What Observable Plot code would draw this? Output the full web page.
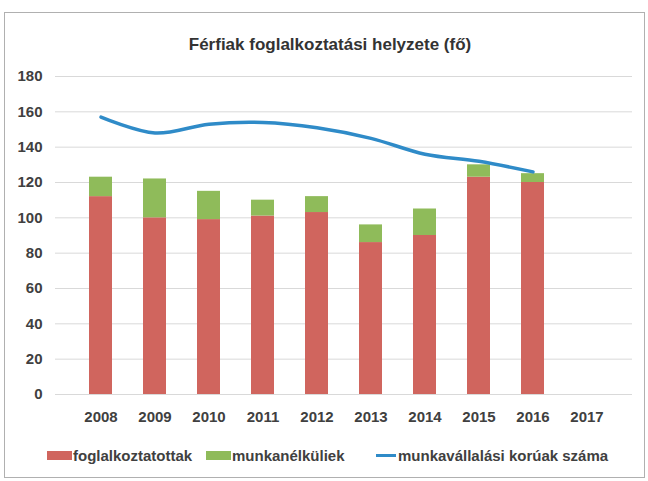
<!DOCTYPE html>
<html><head><meta charset="utf-8">
<script src="https://cdn.jsdelivr.net/npm/d3@7"></script>
<script src="https://cdn.jsdelivr.net/npm/@observablehq/plot@0.6"></script>
<style>
body{margin:0;background:#fff;}
#frame{position:relative;width:648px;height:481px;overflow:hidden;font-family:"Liberation Sans",Arial,sans-serif;color:#404040;}
#border{position:absolute;left:4px;top:12px;width:641px;height:466px;border:1px solid #b0b0b0;box-sizing:border-box;}
#title{position:absolute;left:0;top:35px;width:660px;text-align:center;font-weight:bold;font-size:17px;color:#333;}
#chart{position:absolute;left:0;top:60px;}
.leg{position:absolute;top:447px;font-size:15px;font-weight:bold;white-space:nowrap;display:flex;align-items:center;}
.sw{display:inline-block;width:25px;height:9px;margin-right:1px;}
.ln{display:inline-block;width:20px;height:3px;margin-right:2px;}
</style></head>
<body><div id="frame">
<div id="border"></div>
<div id="title">Férfiak foglalkoztatási helyzete (fő)</div>
<div id="chart"></div>
<div class="leg" style="left:47px"><span class="sw" style="background:#d0655e"></span>foglalkoztatottak</div>
<div class="leg" style="left:206px"><span class="sw" style="background:#8fbb5a"></span>munkanélküliek</div>
<div class="leg" style="left:376px"><span class="ln" style="background:#2f8bc8"></span>munkavállalási korúak száma</div>
</div>
<script>
const years = ["2008","2009","2010","2011","2012","2013","2014","2015","2016","2017"];
const employed = [112,100,99,101,103,86,90,123,120];
const unemployed = [11,22,16,9,9,10,15,7,5];
const workingAge = [157,148,153,154,151,145,136,132,126];
const seriesNames = ["foglalkoztatottak","munkanélküliek"];
const yTicks = [0,20,40,60,80,100,120,140,160,180];

const bars = [];
employed.forEach((v,i)=>{
  bars.push({year:years[i], series:seriesNames[0], value:v});
  bars.push({year:years[i], series:seriesNames[1], value:unemployed[i]});
});
const line = workingAge.map((v,i)=>({year:years[i], value:v}));

const chart = Plot.plot({
  width:648, height:375,
  marginLeft:55, marginRight:16, marginTop:16, marginBottom:41,
  style:{fontFamily:'"Liberation Sans",Arial,sans-serif', fontSize:"15px", fontWeight:"bold", color:"#404040", background:"transparent"},
  x:{domain:years, padding:0.58, label:null, tickSize:0, tickPadding:17},
  y:{domain:[0,180], ticks:yTicks, label:null, tickSize:0, tickPadding:13},
  color:{domain:seriesNames, range:["#d0655e","#8fbb5a"]},
  marks:[
    Plot.gridY(yTicks, {stroke:"#d9d9d9", strokeOpacity:1}),
    Plot.barY(bars, Plot.stackY({x:"year", y:"value", fill:"series"})),
    Plot.line(line, {x:"year", y:"value", stroke:"#2f8bc8", strokeWidth:3.5, curve:"catmull-rom"})
  ]
});
document.getElementById("chart").appendChild(chart);
</script>
</body></html>
